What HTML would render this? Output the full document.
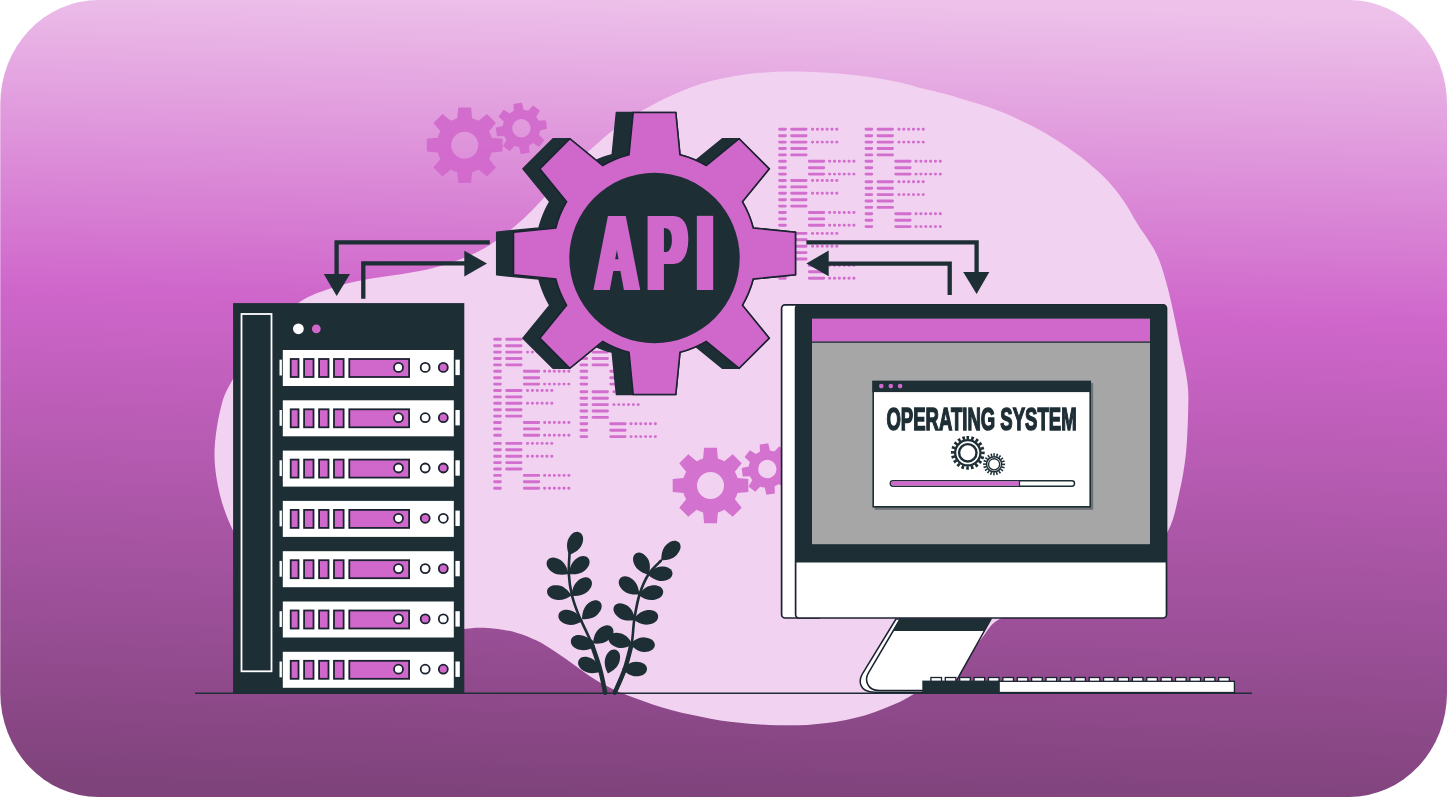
<!DOCTYPE html>
<html lang="en">
<head>
<meta charset="utf-8">
<title>API Operating System</title>
<style>
html,body{margin:0;padding:0;background:#fff;}
body{width:1448px;height:797px;overflow:hidden;}
svg{display:block;}
text{font-family:"Liberation Sans",sans-serif;font-weight:700;}
</style>
</head>
<body>
<svg width="1448" height="797" viewBox="0 0 1448 797">
<defs>
<linearGradient id="bg" gradientUnits="userSpaceOnUse" x1="734.2" y1="0" x2="713.8" y2="797">
<stop offset="0" stop-color="#edc1ea"/>
<stop offset="0.385" stop-color="#cf66cb"/>
<stop offset="1" stop-color="#7f437b"/>
</linearGradient>
<filter id="fat" x="-5%" y="-5%" width="110%" height="110%"><feMorphology operator="dilate" radius="3.5 0.01"/></filter>
<clipPath id="card"><rect x="0.3" y="0" width="1446.7" height="797" rx="98" ry="104"/></clipPath>
</defs>
<rect x="0.3" y="0" width="1446.7" height="797" rx="98" ry="104" fill="url(#bg)"/>
<g clip-path="url(#card)">
<path d="M233 379C239.83 367 251 347.77 262 335C273 322.23 287.58 310.17 299 302.4C310.42 294.63 319.38 292.2 330.5 288.4C341.62 284.6 353.98 281.95 365.7 279.6C377.42 277.25 389.08 276.35 400.8 274.3C412.52 272.25 424.3 270.52 436 267.3C447.7 264.08 461.05 259.38 471 255C480.95 250.62 487.48 246.57 495.7 241C503.92 235.43 512.68 228.35 520.3 221.6C527.92 214.85 532.78 209.6 541.4 200.5C550.02 191.4 562.23 176.88 572 167C581.77 157.12 591.88 148.27 600 141.2C608.12 134.13 613.8 129.62 620.7 124.6C627.6 119.58 634.48 115.25 641.4 111.1C648.32 106.95 655.28 103.15 662.2 99.7C669.12 96.25 676 93.17 682.9 90.4C689.8 87.63 696.7 85.17 703.6 83.1C710.5 81.03 717.4 79.45 724.3 78C731.2 76.55 738.1 75.33 745 74.4C751.9 73.47 758.78 72.88 765.7 72.4C772.62 71.92 779.58 71.6 786.5 71.5C793.42 71.4 800.3 71.58 807.2 71.8C814.1 72.02 821 72.37 827.9 72.8C834.8 73.23 841.7 73.72 848.6 74.4C855.5 75.08 860.73 75.57 869.3 76.9C877.87 78.23 891.43 80.55 900 82.4C908.57 84.25 913.8 86.22 920.7 88C927.6 89.78 934.5 91.28 941.4 93.1C948.3 94.92 955.18 96.88 962.1 98.9C969.02 100.92 975.98 102.88 982.9 105.2C989.82 107.52 996.7 109.97 1003.6 112.8C1010.5 115.63 1017.4 118.85 1024.3 122.2C1031.2 125.55 1038.1 128.93 1045 132.9C1051.9 136.87 1058.78 141.23 1065.7 146C1072.62 150.77 1079.58 155.8 1086.5 161.5C1093.42 167.2 1101 173.63 1107.2 180.2C1113.4 186.77 1118.53 193.42 1123.7 200.9C1128.87 208.38 1132.7 216.17 1138.2 225.1C1143.7 234.03 1151.65 243.52 1156.7 254.5C1161.75 265.48 1164.45 275.25 1168.5 291C1172.55 306.75 1177.92 334.17 1181 349C1184.08 363.83 1185.78 371 1187 380C1188.22 389 1188.47 390.83 1188.3 403C1188.13 415.17 1187.55 437.83 1186 453C1184.45 468.17 1182 481 1179 494C1176 507 1174.5 518.33 1168 531C1161.5 543.67 1153 558.5 1140 570C1127 581.5 1108.33 593 1090 600C1071.67 607 1045.33 608.67 1030 612C1014.67 615.33 1006.1 615.55 998 620C989.9 624.45 987.73 631.08 981.4 638.7C975.07 646.32 966.57 658.98 960 665.7C953.43 672.42 948.1 675.25 942 679C935.9 682.75 929.73 684.73 923.4 688.2C917.07 691.67 910.45 696.45 904 699.8C897.55 703.15 891.13 705.73 884.7 708.3C878.27 710.87 871.85 713.27 865.4 715.2C858.95 717.13 852.45 718.6 846 719.9C839.55 721.2 833.13 722.17 826.7 723C820.27 723.83 813.85 724.52 807.4 724.9C800.95 725.28 794.45 725.3 788 725.3C781.55 725.3 775.13 725.17 768.7 724.9C762.27 724.63 755.85 724.22 749.4 723.7C742.95 723.18 736.45 722.63 730 721.8C723.55 720.97 717.13 719.87 710.7 718.7C704.27 717.53 697.85 716.22 691.4 714.8C684.95 713.38 678.45 711.93 672 710.2C665.55 708.47 659.13 706.53 652.7 704.4C646.27 702.27 639.85 699.85 633.4 697.4C626.95 694.95 620.45 692.72 614 689.7C607.55 686.68 601.15 683.3 594.7 679.3C588.25 675.3 581.75 670.22 575.3 665.7C568.85 661.18 562.43 656.38 556 652.2C549.57 648.02 543.15 643.82 536.7 640.6C530.25 637.38 523.75 634.83 517.3 632.9C510.85 630.97 504.43 629.85 498 629C491.57 628.15 484.37 627.8 478.7 627.8C473.03 627.8 477.12 627.8 464 629C450.88 630.2 427.33 638.17 400 635C372.67 631.83 325 622.5 300 610C275 597.5 261.17 573.23 250 560C238.83 546.77 238 541.43 233 530.6C228 519.77 223.08 507.93 220 495C216.92 482.07 214.33 467.67 214.5 453C214.67 438.33 217.92 419.33 221 407C224.08 394.67 226.17 391 233 379Z" fill="#f2d2f1"/>
<g stroke="#d067cb" stroke-opacity="0.93" stroke-linecap="round" fill="none"><path d="M779.6 129.3H785.4M791.6 129.3H806.1M779.6 135.7H785.4M791.6 135.7H806.1M779.6 142.1H785.4M791.6 142.1H806.1M779.6 148.5H785.4M791.6 148.5H806.1M779.6 154.9H785.4M791.6 154.9H806.1M779.6 161.3H785.4M809.3 161.3H823.8M779.6 167.7H785.4M809.3 167.7H823.8M779.6 174.1H785.4M809.3 174.1H823.8M779.6 180.5H785.4M791.6 180.5H806.1M779.6 186.9H785.4M791.6 186.9H806.1M779.6 193.3H785.4M791.6 193.3H806.1M779.6 199.7H785.4M791.6 199.7H806.1M779.6 206.1H785.4M791.6 206.1H806.1M779.6 212.5H785.4M809.3 212.5H823.8M779.6 218.9H785.4M809.3 218.9H823.8M779.6 225.3H785.4M809.3 225.3H823.8M779.6 233.4H785.4M791.6 233.4H806.1M779.6 239.8H785.4M791.6 239.8H806.1M779.6 246.2H785.4M791.6 246.2H806.1M779.6 252.6H785.4M791.6 252.6H806.1M779.6 259H785.4M791.6 259H806.1M779.6 265.4H785.4M809.3 265.4H823.8M779.6 271.8H785.4M809.3 271.8H823.8M779.6 278.2H785.4M809.3 278.2H823.8M866 129.3H871.8M878 129.3H892.5M866 135.7H871.8M878 135.7H892.5M866 142.1H871.8M878 142.1H892.5M866 148.5H871.8M878 148.5H892.5M866 154.9H871.8M878 154.9H892.5M866 161.3H871.8M895.7 161.3H910.2M866 167.7H871.8M895.7 167.7H910.2M866 174.1H871.8M895.7 174.1H910.2M866 181.8H871.8M878 181.8H892.5M866 188.2H871.8M878 188.2H892.5M866 194.6H871.8M878 194.6H892.5M866 201H871.8M878 201H892.5M866 207.4H871.8M878 207.4H892.5M866 213.8H871.8M895.7 213.8H910.2M866 220.2H871.8M895.7 220.2H910.2M866 226.6H871.8M895.7 226.6H910.2" stroke-width="2.9"/><path d="M812.4 129.3h24.6M812.4 142.1h24.6M829.5 161.3h24.6M829.5 174.1h24.6M812.4 180.5h24.6M812.4 193.3h24.6M829.5 212.5h24.6M829.5 225.3h24.6M812.4 233.4h24.6M812.4 246.2h24.6M829.5 265.4h24.6M829.5 278.2h24.6M898.8 129.3h24.6M898.8 142.1h24.6M915.9 161.3h24.6M915.9 174.1h24.6M898.8 181.8h24.6M898.8 194.6h24.6M915.9 213.8h24.6M915.9 226.6h24.6" stroke-width="2.9" stroke-dasharray="0.3 4.55" /></g>
<g stroke="#d067cb" stroke-opacity="0.93" stroke-linecap="round" fill="none"><path d="M494.6 339.3H500.4M506.6 339.3H521.1M494.6 345.7H500.4M506.6 345.7H521.1M494.6 352.1H500.4M506.6 352.1H521.1M494.6 358.5H500.4M506.6 358.5H521.1M494.6 364.9H500.4M506.6 364.9H521.1M494.6 371.3H500.4M524.3 371.3H538.8M494.6 377.7H500.4M524.3 377.7H538.8M494.6 384.1H500.4M524.3 384.1H538.8M494.6 390.5H500.4M506.6 390.5H521.1M494.6 396.9H500.4M506.6 396.9H521.1M494.6 403.3H500.4M506.6 403.3H521.1M494.6 409.7H500.4M506.6 409.7H521.1M494.6 416.1H500.4M506.6 416.1H521.1M494.6 422.5H500.4M524.3 422.5H538.8M494.6 428.9H500.4M524.3 428.9H538.8M494.6 435.3H500.4M524.3 435.3H538.8M494.6 443.4H500.4M506.6 443.4H521.1M494.6 449.8H500.4M506.6 449.8H521.1M494.6 456.2H500.4M506.6 456.2H521.1M494.6 462.6H500.4M506.6 462.6H521.1M494.6 469H500.4M506.6 469H521.1M494.6 475.4H500.4M524.3 475.4H538.8M494.6 481.8H500.4M524.3 481.8H538.8M494.6 488.2H500.4M524.3 488.2H538.8M581 339.3H586.8M593 339.3H607.5M581 345.7H586.8M593 345.7H607.5M581 352.1H586.8M593 352.1H607.5M581 358.5H586.8M593 358.5H607.5M581 364.9H586.8M593 364.9H607.5M581 371.3H586.8M610.7 371.3H625.2M581 377.7H586.8M610.7 377.7H625.2M581 384.1H586.8M610.7 384.1H625.2M581 391.8H586.8M593 391.8H607.5M581 398.2H586.8M593 398.2H607.5M581 404.6H586.8M593 404.6H607.5M581 411H586.8M593 411H607.5M581 417.4H586.8M593 417.4H607.5M581 423.8H586.8M610.7 423.8H625.2M581 430.2H586.8M610.7 430.2H625.2M581 436.6H586.8M610.7 436.6H625.2" stroke-width="2.9"/><path d="M527.4 339.3h24.6M527.4 352.1h24.6M544.5 371.3h24.6M544.5 384.1h24.6M527.4 390.5h24.6M527.4 403.3h24.6M544.5 422.5h24.6M544.5 435.3h24.6M527.4 443.4h24.6M527.4 456.2h24.6M544.5 475.4h24.6M544.5 488.2h24.6M613.8 339.3h24.6M613.8 352.1h24.6M630.9 371.3h24.6M630.9 384.1h24.6M613.8 391.8h24.6M613.8 404.6h24.6M630.9 423.8h24.6M630.9 436.6h24.6" stroke-width="2.9" stroke-dasharray="0.3 4.55" /></g>
<g fill="#d067cb" fill-opacity="0.9" fill-rule="evenodd"><path d="M457.3 118.2L458.3 107.4 L471.1 107.4 L472.1 118.2A28 28 0 0 1 478.56 120.87L486.9 113.95 L495.95 123 L489.03 131.34A28 28 0 0 1 491.7 137.8L502.5 138.8 L502.5 151.6 L491.7 152.6A28 28 0 0 1 489.03 159.06L495.95 167.4 L486.9 176.45 L478.56 169.53A28 28 0 0 1 472.1 172.2L471.1 183 L458.3 183 L457.3 172.2A28 28 0 0 1 450.84 169.53L442.5 176.45 L433.45 167.4 L440.37 159.06A28 28 0 0 1 437.7 152.6L426.9 151.6 L426.9 138.8 L437.7 137.8A28 28 0 0 1 440.37 131.34L433.45 123 L442.5 113.95 L450.84 120.87A28 28 0 0 1 457.3 118.2 ZM451.2 145.2 a13.5 13.5 0 1 0 27 0 a13.5 13.5 0 1 0 -27 0Z"/><path d="M513.78 111.12L513.41 103.91 L521.91 102.64 L523.67 109.64A18.8 18.8 0 0 1 528.16 110.76L532.99 105.4 L539.91 110.52 L536.2 116.71A18.8 18.8 0 0 1 538.58 120.68L545.79 120.31 L547.06 128.81 L540.06 130.57A18.8 18.8 0 0 1 538.94 135.06L544.3 139.89 L539.18 146.81 L532.99 143.1A18.8 18.8 0 0 1 529.02 145.48L529.39 152.69 L520.89 153.96 L519.13 146.96A18.8 18.8 0 0 1 514.64 145.84L509.81 151.2 L502.89 146.08 L506.6 139.89A18.8 18.8 0 0 1 504.22 135.92L497.01 136.29 L495.74 127.79 L502.74 126.03A18.8 18.8 0 0 1 503.86 121.54L498.5 116.71 L503.62 109.79 L509.81 113.5A18.8 18.8 0 0 1 513.78 111.12 ZM512.2 128.3 a9.2 9.2 0 1 0 18.4 0 a9.2 9.2 0 1 0 -18.4 0Z"/><path d="M703.1 458.5L704.1 447.7 L716.9 447.7 L717.9 458.5A28 28 0 0 1 724.36 461.17L732.7 454.25 L741.75 463.3 L734.83 471.64A28 28 0 0 1 737.5 478.1L748.3 479.1 L748.3 491.9 L737.5 492.9A28 28 0 0 1 734.83 499.36L741.75 507.7 L732.7 516.75 L724.36 509.83A28 28 0 0 1 717.9 512.5L716.9 523.3 L704.1 523.3 L703.1 512.5A28 28 0 0 1 696.64 509.83L688.3 516.75 L679.25 507.7 L686.17 499.36A28 28 0 0 1 683.5 492.9L672.7 491.9 L672.7 479.1 L683.5 478.1A28 28 0 0 1 686.17 471.64L679.25 463.3 L688.3 454.25 L696.64 461.17A28 28 0 0 1 703.1 458.5 ZM697 485.5 a13.5 13.5 0 1 0 27 0 a13.5 13.5 0 1 0 -27 0Z"/><path d="M759.98 451.68L759.73 444.48 L768.26 443.36 L769.89 450.38A18.8 18.8 0 0 1 774.37 451.58L779.29 446.31 L786.11 451.55 L782.3 457.67A18.8 18.8 0 0 1 784.62 461.68L791.82 461.43 L792.94 469.96 L785.92 471.59A18.8 18.8 0 0 1 784.72 476.07L789.99 480.99 L784.75 487.81 L778.63 484A18.8 18.8 0 0 1 774.62 486.32L774.87 493.52 L766.34 494.64 L764.71 487.62A18.8 18.8 0 0 1 760.23 486.42L755.31 491.69 L748.49 486.45 L752.3 480.33A18.8 18.8 0 0 1 749.98 476.32L742.78 476.57 L741.66 468.04 L748.68 466.41A18.8 18.8 0 0 1 749.88 461.93L744.61 457.01 L749.85 450.19 L755.97 454A18.8 18.8 0 0 1 759.98 451.68 ZM758.1 469 a9.2 9.2 0 1 0 18.4 0 a9.2 9.2 0 1 0 -18.4 0Z"/></g>
<path d="M629 154.74L633.2 112.5L675.8 112.5L680 154.74L684.58 156.04L689.09 157.55L693.53 159.26L697.89 161.19L702.15 163.31L706.3 165.63L739.14 138.74L769.26 168.86L742.37 201.7L744.69 205.85L746.81 210.11L748.74 214.47L750.45 218.91L751.96 223.42L753.26 228L795.5 232.2L795.5 274.8L753.26 279L751.96 283.58L750.45 288.09L748.74 292.53L746.81 296.89L744.69 301.15L742.37 305.3L769.26 338.14L739.14 368.26L706.3 341.37L702.15 343.69L697.89 345.81L693.53 347.74L689.09 349.45L684.58 350.96L680 352.26L675.8 394.5L633.2 394.5L629 352.26L624.42 350.96L619.91 349.45L615.47 347.74L611.11 345.81L606.85 343.69L602.7 341.37L569.86 368.26L539.74 338.14L566.63 305.3L564.31 301.15L562.19 296.89L560.26 292.53L558.55 288.09L557.04 283.58L555.74 279L513.5 274.8L513.5 232.2L555.74 228L557.04 223.42L558.55 218.91L560.26 214.47L562.19 210.11L564.31 205.85L566.63 201.7L539.74 168.86L569.86 138.74L602.7 165.63L606.85 163.31L611.11 161.19L615.47 159.26L619.91 157.55L624.42 156.04ZM612.2 154.74L616.4 112.5L659 112.5L663.2 154.74L667.78 156.04L672.29 157.55L676.73 159.26L681.09 161.19L685.35 163.31L689.5 165.63L722.34 138.74L752.46 168.86L725.57 201.7L727.89 205.85L730.01 210.11L731.94 214.47L733.65 218.91L735.16 223.42L736.46 228L778.7 232.2L778.7 274.8L736.46 279L735.16 283.58L733.65 288.09L731.94 292.53L730.01 296.89L727.89 301.15L725.57 305.3L752.46 338.14L722.34 368.26L689.5 341.37L685.35 343.69L681.09 345.81L676.73 347.74L672.29 349.45L667.78 350.96L663.2 352.26L659 394.5L616.4 394.5L612.2 352.26L607.62 350.96L603.11 349.45L598.67 347.74L594.31 345.81L590.05 343.69L585.9 341.37L553.06 368.26L522.94 338.14L549.83 305.3L547.51 301.15L545.39 296.89L543.46 292.53L541.75 288.09L540.24 283.58L538.94 279L496.7 274.8L496.7 232.2L538.94 228L540.24 223.42L541.75 218.91L543.46 214.47L545.39 210.11L547.51 205.85L549.83 201.7L522.94 168.86L553.06 138.74L585.9 165.63L590.05 163.31L594.31 161.19L598.67 159.26L603.11 157.55L607.62 156.04ZM612.2 154.74L616.4 112.5L633.2 112.5L629 154.74ZM675.8 112.5L680 154.74L663.2 154.74L659 112.5ZM680 154.74L684.58 156.04L667.78 156.04L663.2 154.74ZM684.58 156.04L689.09 157.55L672.29 157.55L667.78 156.04ZM689.09 157.55L693.53 159.26L676.73 159.26L672.29 157.55ZM693.53 159.26L697.89 161.19L681.09 161.19L676.73 159.26ZM697.89 161.19L702.15 163.31L685.35 163.31L681.09 161.19ZM702.15 163.31L706.3 165.63L689.5 165.63L685.35 163.31ZM689.5 165.63L722.34 138.74L739.14 138.74L706.3 165.63ZM739.14 138.74L769.26 168.86L752.46 168.86L722.34 138.74ZM769.26 168.86L742.37 201.7L725.57 201.7L752.46 168.86ZM742.37 201.7L744.69 205.85L727.89 205.85L725.57 201.7ZM744.69 205.85L746.81 210.11L730.01 210.11L727.89 205.85ZM746.81 210.11L748.74 214.47L731.94 214.47L730.01 210.11ZM748.74 214.47L750.45 218.91L733.65 218.91L731.94 214.47ZM750.45 218.91L751.96 223.42L735.16 223.42L733.65 218.91ZM751.96 223.42L753.26 228L736.46 228L735.16 223.42ZM753.26 228L795.5 232.2L778.7 232.2L736.46 228ZM795.5 232.2L795.5 274.8L778.7 274.8L778.7 232.2ZM795.5 274.8L753.26 279L736.46 279L778.7 274.8ZM753.26 279L751.96 283.58L735.16 283.58L736.46 279ZM751.96 283.58L750.45 288.09L733.65 288.09L735.16 283.58ZM750.45 288.09L748.74 292.53L731.94 292.53L733.65 288.09ZM748.74 292.53L746.81 296.89L730.01 296.89L731.94 292.53ZM746.81 296.89L744.69 301.15L727.89 301.15L730.01 296.89ZM744.69 301.15L742.37 305.3L725.57 305.3L727.89 301.15ZM742.37 305.3L769.26 338.14L752.46 338.14L725.57 305.3ZM769.26 338.14L739.14 368.26L722.34 368.26L752.46 338.14ZM722.34 368.26L689.5 341.37L706.3 341.37L739.14 368.26ZM706.3 341.37L702.15 343.69L685.35 343.69L689.5 341.37ZM702.15 343.69L697.89 345.81L681.09 345.81L685.35 343.69ZM697.89 345.81L693.53 347.74L676.73 347.74L681.09 345.81ZM693.53 347.74L689.09 349.45L672.29 349.45L676.73 347.74ZM689.09 349.45L684.58 350.96L667.78 350.96L672.29 349.45ZM684.58 350.96L680 352.26L663.2 352.26L667.78 350.96ZM680 352.26L675.8 394.5L659 394.5L663.2 352.26ZM616.4 394.5L612.2 352.26L629 352.26L633.2 394.5ZM612.2 352.26L607.62 350.96L624.42 350.96L629 352.26ZM607.62 350.96L603.11 349.45L619.91 349.45L624.42 350.96ZM603.11 349.45L598.67 347.74L615.47 347.74L619.91 349.45ZM598.67 347.74L594.31 345.81L611.11 345.81L615.47 347.74ZM594.31 345.81L590.05 343.69L606.85 343.69L611.11 345.81ZM590.05 343.69L585.9 341.37L602.7 341.37L606.85 343.69ZM602.7 341.37L569.86 368.26L553.06 368.26L585.9 341.37ZM553.06 368.26L522.94 338.14L539.74 338.14L569.86 368.26ZM522.94 338.14L549.83 305.3L566.63 305.3L539.74 338.14ZM549.83 305.3L547.51 301.15L564.31 301.15L566.63 305.3ZM547.51 301.15L545.39 296.89L562.19 296.89L564.31 301.15ZM545.39 296.89L543.46 292.53L560.26 292.53L562.19 296.89ZM543.46 292.53L541.75 288.09L558.55 288.09L560.26 292.53ZM541.75 288.09L540.24 283.58L557.04 283.58L558.55 288.09ZM540.24 283.58L538.94 279L555.74 279L557.04 283.58ZM538.94 279L496.7 274.8L513.5 274.8L555.74 279ZM496.7 274.8L496.7 232.2L513.5 232.2L513.5 274.8ZM496.7 232.2L538.94 228L555.74 228L513.5 232.2ZM538.94 228L540.24 223.42L557.04 223.42L555.74 228ZM540.24 223.42L541.75 218.91L558.55 218.91L557.04 223.42ZM541.75 218.91L543.46 214.47L560.26 214.47L558.55 218.91ZM543.46 214.47L545.39 210.11L562.19 210.11L560.26 214.47ZM545.39 210.11L547.51 205.85L564.31 205.85L562.19 210.11ZM547.51 205.85L549.83 201.7L566.63 201.7L564.31 205.85ZM549.83 201.7L522.94 168.86L539.74 168.86L566.63 201.7ZM522.94 168.86L553.06 138.74L569.86 138.74L539.74 168.86ZM569.86 138.74L602.7 165.63L585.9 165.63L553.06 138.74ZM585.9 165.63L590.05 163.31L606.85 163.31L602.7 165.63ZM590.05 163.31L594.31 161.19L611.11 161.19L606.85 163.31ZM594.31 161.19L598.67 159.26L615.47 159.26L611.11 161.19ZM598.67 159.26L603.11 157.55L619.91 157.55L615.47 159.26ZM603.11 157.55L607.62 156.04L624.42 156.04L619.91 157.55ZM607.62 156.04L612.2 154.74L629 154.74L624.42 156.04Z" fill="#1d2e35" stroke="#1d2e35" stroke-width="1.5" stroke-linejoin="round" fill-rule="nonzero"/><path d="M629 154.74L633.2 112.5 L675.8 112.5 L680 154.74A102 102 0 0 1 706.3 165.63L739.14 138.74 L769.26 168.86 L742.37 201.7A102 102 0 0 1 753.26 228L795.5 232.2 L795.5 274.8 L753.26 279A102 102 0 0 1 742.37 305.3L769.26 338.14 L739.14 368.26 L706.3 341.37A102 102 0 0 1 680 352.26L675.8 394.5 L633.2 394.5 L629 352.26A102 102 0 0 1 602.7 341.37L569.86 368.26 L539.74 338.14 L566.63 305.3A102 102 0 0 1 555.74 279L513.5 274.8 L513.5 232.2 L555.74 228A102 102 0 0 1 566.63 201.7L539.74 168.86 L569.86 138.74 L602.7 165.63A102 102 0 0 1 629 154.74 Z" fill="#d067cb" stroke="#1b2230" stroke-width="1.6" stroke-linejoin="miter"/><circle cx="654.5" cy="258" r="85.2" fill="#1d2e35"/>
<g filter="url(#fat)"><text transform="translate(596 290) scale(0.54 1)" font-size="107" fill="#d067cb" dx="0 18.8 19.8">API</text></g>
<g fill="none" stroke="#1d2e35" stroke-width="4.3" stroke-linejoin="miter"><path d="M489.8 242.4H336.6V276"/><path d="M363.3 298.7V263.4H466"/><path d="M806.4 242.3H976.6V274"/><path d="M949.7 294.9V263.6H827"/></g><g fill="#1d2e35"><path d="M323.8 273.9H350L336.7 296Z"/><path d="M464.3 250.7V276.6L487 263.5Z"/><path d="M963.2 272H989.3L976.6 294Z"/><path d="M828.7 250.4V276.2L806.4 263.6Z"/></g>
<path d="M195 693.2H1252" stroke="#1d2e35" stroke-width="1.5" fill="none"/>
<rect x="233.1" y="303.1" width="231.2" height="390.6" fill="#1d2e35"/><rect x="241.5" y="314" width="30" height="357.3" fill="none" stroke="#fff" stroke-width="1.8"/><circle cx="298.4" cy="328.8" r="5.4" fill="#fff"/><circle cx="316.3" cy="328.8" r="4.4" fill="#d067cb"/>
<g transform="translate(0 350)"><rect x="282.8" y="0" width="171" height="36" fill="#fff"/><rect x="279.5" y="9.7" width="2.4" height="15.8" fill="#fff"/><rect x="455.4" y="9.7" width="4.4" height="15.4" fill="#fff"/><g fill="#d067cb" stroke="#1b2230" stroke-width="1.8"><rect x="290.7" y="9" width="7.8" height="18"/><rect x="304.1" y="9" width="9.4" height="18"/><rect x="319.1" y="9" width="9.4" height="18"/><rect x="334" y="9" width="9.6" height="18"/><rect x="349.3" y="9" width="59.8" height="18"/><circle cx="398.5" cy="17.4" r="4.5" fill="#fff"/><circle cx="425.2" cy="17.4" r="4.5" fill="#fff"/><circle cx="443.3" cy="17.4" r="4.5" fill="#d067cb"/></g></g>
<g transform="translate(0 400.3)"><rect x="282.8" y="0" width="171" height="36" fill="#fff"/><rect x="279.5" y="9.7" width="2.4" height="15.8" fill="#fff"/><rect x="455.4" y="9.7" width="4.4" height="15.4" fill="#fff"/><g fill="#d067cb" stroke="#1b2230" stroke-width="1.8"><rect x="290.7" y="9" width="7.8" height="18"/><rect x="304.1" y="9" width="9.4" height="18"/><rect x="319.1" y="9" width="9.4" height="18"/><rect x="334" y="9" width="9.6" height="18"/><rect x="349.3" y="9" width="59.8" height="18"/><circle cx="398.5" cy="17.4" r="4.5" fill="#fff"/><circle cx="425.2" cy="17.4" r="4.5" fill="#fff"/><circle cx="443.3" cy="17.4" r="4.5" fill="#d067cb"/></g></g>
<g transform="translate(0 450.6)"><rect x="282.8" y="0" width="171" height="36" fill="#fff"/><rect x="279.5" y="9.7" width="2.4" height="15.8" fill="#fff"/><rect x="455.4" y="9.7" width="4.4" height="15.4" fill="#fff"/><g fill="#d067cb" stroke="#1b2230" stroke-width="1.8"><rect x="290.7" y="9" width="7.8" height="18"/><rect x="304.1" y="9" width="9.4" height="18"/><rect x="319.1" y="9" width="9.4" height="18"/><rect x="334" y="9" width="9.6" height="18"/><rect x="349.3" y="9" width="59.8" height="18"/><circle cx="398.5" cy="17.4" r="4.5" fill="#fff"/><circle cx="425.2" cy="17.4" r="4.5" fill="#fff"/><circle cx="443.3" cy="17.4" r="4.5" fill="#d067cb"/></g></g>
<g transform="translate(0 500.9)"><rect x="282.8" y="0" width="171" height="36" fill="#fff"/><rect x="279.5" y="9.7" width="2.4" height="15.8" fill="#fff"/><rect x="455.4" y="9.7" width="4.4" height="15.4" fill="#fff"/><g fill="#d067cb" stroke="#1b2230" stroke-width="1.8"><rect x="290.7" y="9" width="7.8" height="18"/><rect x="304.1" y="9" width="9.4" height="18"/><rect x="319.1" y="9" width="9.4" height="18"/><rect x="334" y="9" width="9.6" height="18"/><rect x="349.3" y="9" width="59.8" height="18"/><circle cx="398.5" cy="17.4" r="4.5" fill="#fff"/><circle cx="425.2" cy="17.4" r="4.5" fill="#d067cb"/><circle cx="443.3" cy="17.4" r="4.5" fill="#fff"/></g></g>
<g transform="translate(0 551.2)"><rect x="282.8" y="0" width="171" height="36" fill="#fff"/><rect x="279.5" y="9.7" width="2.4" height="15.8" fill="#fff"/><rect x="455.4" y="9.7" width="4.4" height="15.4" fill="#fff"/><g fill="#d067cb" stroke="#1b2230" stroke-width="1.8"><rect x="290.7" y="9" width="7.8" height="18"/><rect x="304.1" y="9" width="9.4" height="18"/><rect x="319.1" y="9" width="9.4" height="18"/><rect x="334" y="9" width="9.6" height="18"/><rect x="349.3" y="9" width="59.8" height="18"/><circle cx="398.5" cy="17.4" r="4.5" fill="#fff"/><circle cx="425.2" cy="17.4" r="4.5" fill="#fff"/><circle cx="443.3" cy="17.4" r="4.5" fill="#d067cb"/></g></g>
<g transform="translate(0 601.5)"><rect x="282.8" y="0" width="171" height="36" fill="#fff"/><rect x="279.5" y="9.7" width="2.4" height="15.8" fill="#fff"/><rect x="455.4" y="9.7" width="4.4" height="15.4" fill="#fff"/><g fill="#d067cb" stroke="#1b2230" stroke-width="1.8"><rect x="290.7" y="9" width="7.8" height="18"/><rect x="304.1" y="9" width="9.4" height="18"/><rect x="319.1" y="9" width="9.4" height="18"/><rect x="334" y="9" width="9.6" height="18"/><rect x="349.3" y="9" width="59.8" height="18"/><circle cx="398.5" cy="17.4" r="4.5" fill="#fff"/><circle cx="425.2" cy="17.4" r="4.5" fill="#d067cb"/><circle cx="443.3" cy="17.4" r="4.5" fill="#fff"/></g></g>
<g transform="translate(0 651.8)"><rect x="282.8" y="0" width="171" height="36" fill="#fff"/><rect x="279.5" y="9.7" width="2.4" height="15.8" fill="#fff"/><rect x="455.4" y="9.7" width="4.4" height="15.4" fill="#fff"/><g fill="#d067cb" stroke="#1b2230" stroke-width="1.8"><rect x="290.7" y="9" width="7.8" height="18"/><rect x="304.1" y="9" width="9.4" height="18"/><rect x="319.1" y="9" width="9.4" height="18"/><rect x="334" y="9" width="9.6" height="18"/><rect x="349.3" y="9" width="59.8" height="18"/><circle cx="398.5" cy="17.4" r="4.5" fill="#fff"/><circle cx="425.2" cy="17.4" r="4.5" fill="#fff"/><circle cx="443.3" cy="17.4" r="4.5" fill="#d067cb"/></g></g>
<path d="M896 619L862.4 673.8C858.3 680.8 859 692.2 874.5 692.2H950L991 619Z" fill="#fff" stroke="#1b2230" stroke-width="1.5"/><path d="M900.2 619L868.3 673.1C864.8 679.3 866.3 690.6 879.5 690.6H948" fill="none" stroke="#1b2230" stroke-width="1.5"/><path d="M899.6 619H991L984.2 631H892.6Z" fill="#1d2e35"/><g stroke="#1b2230" stroke-width="1.7"><rect x="781.6" y="304.8" width="40" height="313.2" rx="3.5" fill="#fff"/><rect x="795.6" y="304.8" width="370.9" height="313.2" rx="3.5" fill="#fff"/></g><path d="M795.6 308.3Q795.6 304.6 799.3 304.6H1162.8Q1166.5 304.6 1166.5 308.3V562.5H795.6Z" fill="#1d2e35"/><rect x="812" y="318.8" width="338" height="225.4" fill="#a6a6a6"/><rect x="812" y="318.8" width="338" height="22.8" fill="#d067cb"/><path d="M812 342.2H1150" stroke="#1b2230" stroke-width="1.2"/>
<rect x="874.6" y="383" width="218.6" height="126.8" fill="#6d7275"/><rect x="873.2" y="381.6" width="217" height="125.2" fill="#fff" stroke="#1d2e35" stroke-width="1.6"/><rect x="872.4" y="380.8" width="218.6" height="11.3" fill="#1d2e35"/><g fill="#d067cb"><circle cx="881.3" cy="386.1" r="2.3"/><circle cx="890.8" cy="386.1" r="2.3"/><circle cx="900.1" cy="386.1" r="2.3"/></g><g opacity="0.999"><text x="886.4" y="430.2" font-size="30.6" textLength="190.2" lengthAdjust="spacingAndGlyphs" fill="#1d2e35" stroke="#1d2e35" stroke-width="1.5">OPERATING SYSTEM</text></g>
<circle cx="967.8" cy="452.8" r="15.15" fill="none" stroke="#1d2e35" stroke-width="3.5" stroke-dasharray="2.62 2.14" transform="rotate(-94.95 967.8 452.8)"/><circle cx="967.8" cy="452.8" r="12.65" fill="none" stroke="#1d2e35" stroke-width="2.3"/><circle cx="967.8" cy="452.8" r="8.7" fill="none" stroke="#1d2e35" stroke-width="2.4"/><circle cx="994.1" cy="464.3" r="9.5" fill="none" stroke="#1d2e35" stroke-width="3" stroke-dasharray="1.49 1.49" transform="rotate(-94.5 994.1 464.3)"/><circle cx="994.1" cy="464.3" r="7.6" fill="none" stroke="#1d2e35" stroke-width="1.6"/><circle cx="994.1" cy="464.3" r="5.55" fill="none" stroke="#1d2e35" stroke-width="1.3"/>
<rect x="890.3" y="480.8" width="184.2" height="5.4" rx="2.7" fill="#fff" stroke="#1d2e35" stroke-width="1.5"/><path d="M893 481.3H1019.5V485.5H893A2.1 2.1 0 0 1 893 481.3Z" fill="#d067cb"/><path d="M1019.5 480.6V486.2" stroke="#1d2e35" stroke-width="1.2"/>
<g fill="#fff" stroke="#1b2230" stroke-width="1.3"><rect x="930.9" y="677.5" width="10.6" height="4.5"/><rect x="945.29" y="677.5" width="10.6" height="4.5"/><rect x="959.68" y="677.5" width="10.6" height="4.5"/><rect x="974.07" y="677.5" width="10.6" height="4.5"/><rect x="988.46" y="677.5" width="10.6" height="4.5"/><rect x="1002.85" y="677.5" width="10.6" height="4.5"/><rect x="1017.24" y="677.5" width="10.6" height="4.5"/><rect x="1031.63" y="677.5" width="10.6" height="4.5"/><rect x="1046.02" y="677.5" width="10.6" height="4.5"/><rect x="1060.41" y="677.5" width="10.6" height="4.5"/><rect x="1074.8" y="677.5" width="10.6" height="4.5"/><rect x="1089.19" y="677.5" width="10.6" height="4.5"/><rect x="1103.58" y="677.5" width="10.6" height="4.5"/><rect x="1117.97" y="677.5" width="10.6" height="4.5"/><rect x="1132.36" y="677.5" width="10.6" height="4.5"/><rect x="1146.75" y="677.5" width="10.6" height="4.5"/><rect x="1161.14" y="677.5" width="10.6" height="4.5"/><rect x="1175.53" y="677.5" width="10.6" height="4.5"/><rect x="1189.92" y="677.5" width="10.6" height="4.5"/><rect x="1204.31" y="677.5" width="10.6" height="4.5"/><rect x="1218.7" y="677.5" width="10.6" height="4.5"/></g><rect x="999" y="681.3" width="235.4" height="11.2" fill="#fff" stroke="#1b2230" stroke-width="1.3"/><rect x="922.3" y="680.6" width="77.2" height="12.6" fill="#1d2e35"/>
<g fill="#1d2e35"><path d="M-13 0C-9 -4.02 -4.2 -7.3 1.2 -7.3C7.44 -7.3 12 -4.38 12 0C12 4.38 7.44 7.3 1.2 7.3C-4.2 7.3 -9 4.02 -13 0Z" transform="translate(574.48 543.26) rotate(-64.92)"/><path d="M-13 0C-9 -4.02 -4.2 -7.3 1.2 -7.3C7.44 -7.3 12 -4.38 12 0C12 4.38 7.44 7.3 1.2 7.3C-4.2 7.3 -9 4.02 -13 0Z" transform="translate(557.55 566.74) rotate(-146.58)"/><path d="M-13 0C-9 -4.02 -4.2 -7.3 1.2 -7.3C7.44 -7.3 12 -4.38 12 0C12 4.38 7.44 7.3 1.2 7.3C-4.2 7.3 -9 4.02 -13 0Z" transform="translate(579 565.83) rotate(-39.43)"/><path d="M-13 0C-9 -4.02 -4.2 -7.3 1.2 -7.3C7.44 -7.3 12 -4.38 12 0C12 4.38 7.44 7.3 1.2 7.3C-4.2 7.3 -9 4.02 -13 0Z" transform="translate(558.9 592.93) rotate(-168.11)"/><path d="M-13 0C-9 -4.02 -4.2 -7.3 1.2 -7.3C7.44 -7.3 12 -4.38 12 0C12 4.38 7.44 7.3 1.2 7.3C-4.2 7.3 -9 4.02 -13 0Z" transform="translate(581.48 587.28) rotate(-40.71)"/><path d="M-13 0C-9 -4.02 -4.2 -7.3 1.2 -7.3C7.44 -7.3 12 -4.38 12 0C12 4.38 7.44 7.3 1.2 7.3C-4.2 7.3 -9 4.02 -13 0Z" transform="translate(570.19 617.76) rotate(-165.68)"/><path d="M-13 0C-9 -4.02 -4.2 -7.3 1.2 -7.3C7.44 -7.3 12 -4.38 12 0C12 4.38 7.44 7.3 1.2 7.3C-4.2 7.3 -9 4.02 -13 0Z" transform="translate(591.41 610.31) rotate(-43.75)"/><path d="M-13 0C-9 -4.02 -4.2 -7.3 1.2 -7.3C7.44 -7.3 12 -4.38 12 0C12 4.38 7.44 7.3 1.2 7.3C-4.2 7.3 -9 4.02 -13 0Z" transform="translate(582.61 643.05) rotate(-164.88)"/><path d="M-13 0C-9 -4.02 -4.2 -7.3 1.2 -7.3C7.44 -7.3 12 -4.38 12 0C12 4.38 7.44 7.3 1.2 7.3C-4.2 7.3 -9 4.02 -13 0Z" transform="translate(602.93 635.15) rotate(-40.33)"/><path d="M-13 0C-9 -4.02 -4.2 -7.3 1.2 -7.3C7.44 -7.3 12 -4.38 12 0C12 4.38 7.44 7.3 1.2 7.3C-4.2 7.3 -9 4.02 -13 0Z" transform="translate(589.38 665.63) rotate(-152.97)"/><path d="M-13 0C-9 -4.02 -4.2 -7.3 1.2 -7.3C7.44 -7.3 12 -4.38 12 0C12 4.38 7.44 7.3 1.2 7.3C-4.2 7.3 -9 4.02 -13 0Z" transform="translate(611.96 661.12) rotate(-71.88)"/><path d="M-13 0C-9 -4.02 -4.2 -7.3 1.2 -7.3C7.44 -7.3 12 -4.38 12 0C12 4.38 7.44 7.3 1.2 7.3C-4.2 7.3 -9 4.02 -13 0Z" transform="translate(670.44 550.93) rotate(-45.67)"/><path d="M-13 0C-9 -4.02 -4.2 -7.3 1.2 -7.3C7.44 -7.3 12 -4.38 12 0C12 4.38 7.44 7.3 1.2 7.3C-4.2 7.3 -9 4.02 -13 0Z" transform="translate(642.21 563.58) rotate(-120.78)"/><path d="M-13 0C-9 -4.02 -4.2 -7.3 1.2 -7.3C7.44 -7.3 12 -4.38 12 0C12 4.38 7.44 7.3 1.2 7.3C-4.2 7.3 -9 4.02 -13 0Z" transform="translate(660.5 573.74) rotate(-2.16)"/><path d="M-13 0C-9 -4.02 -4.2 -7.3 1.2 -7.3C7.44 -7.3 12 -4.38 12 0C12 4.38 7.44 7.3 1.2 7.3C-4.2 7.3 -9 4.02 -13 0Z" transform="translate(629.35 586.15) rotate(-140.57)"/><path d="M-13 0C-9 -4.02 -4.2 -7.3 1.2 -7.3C7.44 -7.3 12 -4.38 12 0C12 4.38 7.44 7.3 1.2 7.3C-4.2 7.3 -9 4.02 -13 0Z" transform="translate(651.25 592.93) rotate(-7.67)"/><path d="M-13 0C-9 -4.02 -4.2 -7.3 1.2 -7.3C7.44 -7.3 12 -4.38 12 0C12 4.38 7.44 7.3 1.2 7.3C-4.2 7.3 -9 4.02 -13 0Z" transform="translate(624.38 612.57) rotate(-145.71)"/><path d="M-13 0C-9 -4.02 -4.2 -7.3 1.2 -7.3C7.44 -7.3 12 -4.38 12 0C12 4.38 7.44 7.3 1.2 7.3C-4.2 7.3 -9 4.02 -13 0Z" transform="translate(646.28 617.54) rotate(-8.58)"/><path d="M-13 0C-9 -4.02 -4.2 -7.3 1.2 -7.3C7.44 -7.3 12 -4.38 12 0C12 4.38 7.44 7.3 1.2 7.3C-4.2 7.3 -9 4.02 -13 0Z" transform="translate(620.31 640.79) rotate(-163.3)"/><path d="M-13 0C-9 -4.02 -4.2 -7.3 1.2 -7.3C7.44 -7.3 12 -4.38 12 0C12 4.38 7.44 7.3 1.2 7.3C-4.2 7.3 -9 4.02 -13 0Z" transform="translate(642.89 644.63) rotate(2.29)"/><path d="M-13 0C-9 -4.02 -4.2 -7.3 1.2 -7.3C7.44 -7.3 12 -4.38 12 0C12 4.38 7.44 7.3 1.2 7.3C-4.2 7.3 -9 4.02 -13 0Z" transform="translate(634.99 669.02) rotate(0)"/></g><g fill="none" stroke="#1d2e35" stroke-linecap="round"><path d="M605.19 692.73C604.32 688.77 602.36 677.48 599.99 669.02C597.62 660.55 594.54 650.96 590.96 641.92C587.39 632.89 581.74 622.73 578.54 614.83C575.35 606.93 573.39 601.28 571.77 594.51C570.15 587.74 569.21 580.96 568.83 574.19C568.46 567.41 569.4 557.25 569.51 553.87" stroke-width="2.6"/><path d="M614.67 692.73C616.36 688.77 622.01 677.11 624.83 669.02C627.65 660.93 630.02 652.46 631.6 644.18C633.18 635.9 633 627.62 634.31 619.35C635.63 611.07 637.13 602.04 639.51 594.51C641.88 586.98 644.96 579.83 648.54 574.19C652.11 568.54 658.89 562.9 660.96 560.64" stroke-width="2.6"/><path d="M605.19 692.73C604.32 688.77 602.36 677.48 599.99 669.02C597.62 660.55 592.47 646.44 590.96 641.92" stroke-width="4.5"/><path d="M614.67 692.73C616.36 688.77 622.01 677.11 624.83 669.02C627.65 660.93 630.47 648.32 631.6 644.18" stroke-width="4.5"/></g>
</g>
</svg>
</body>
</html>
